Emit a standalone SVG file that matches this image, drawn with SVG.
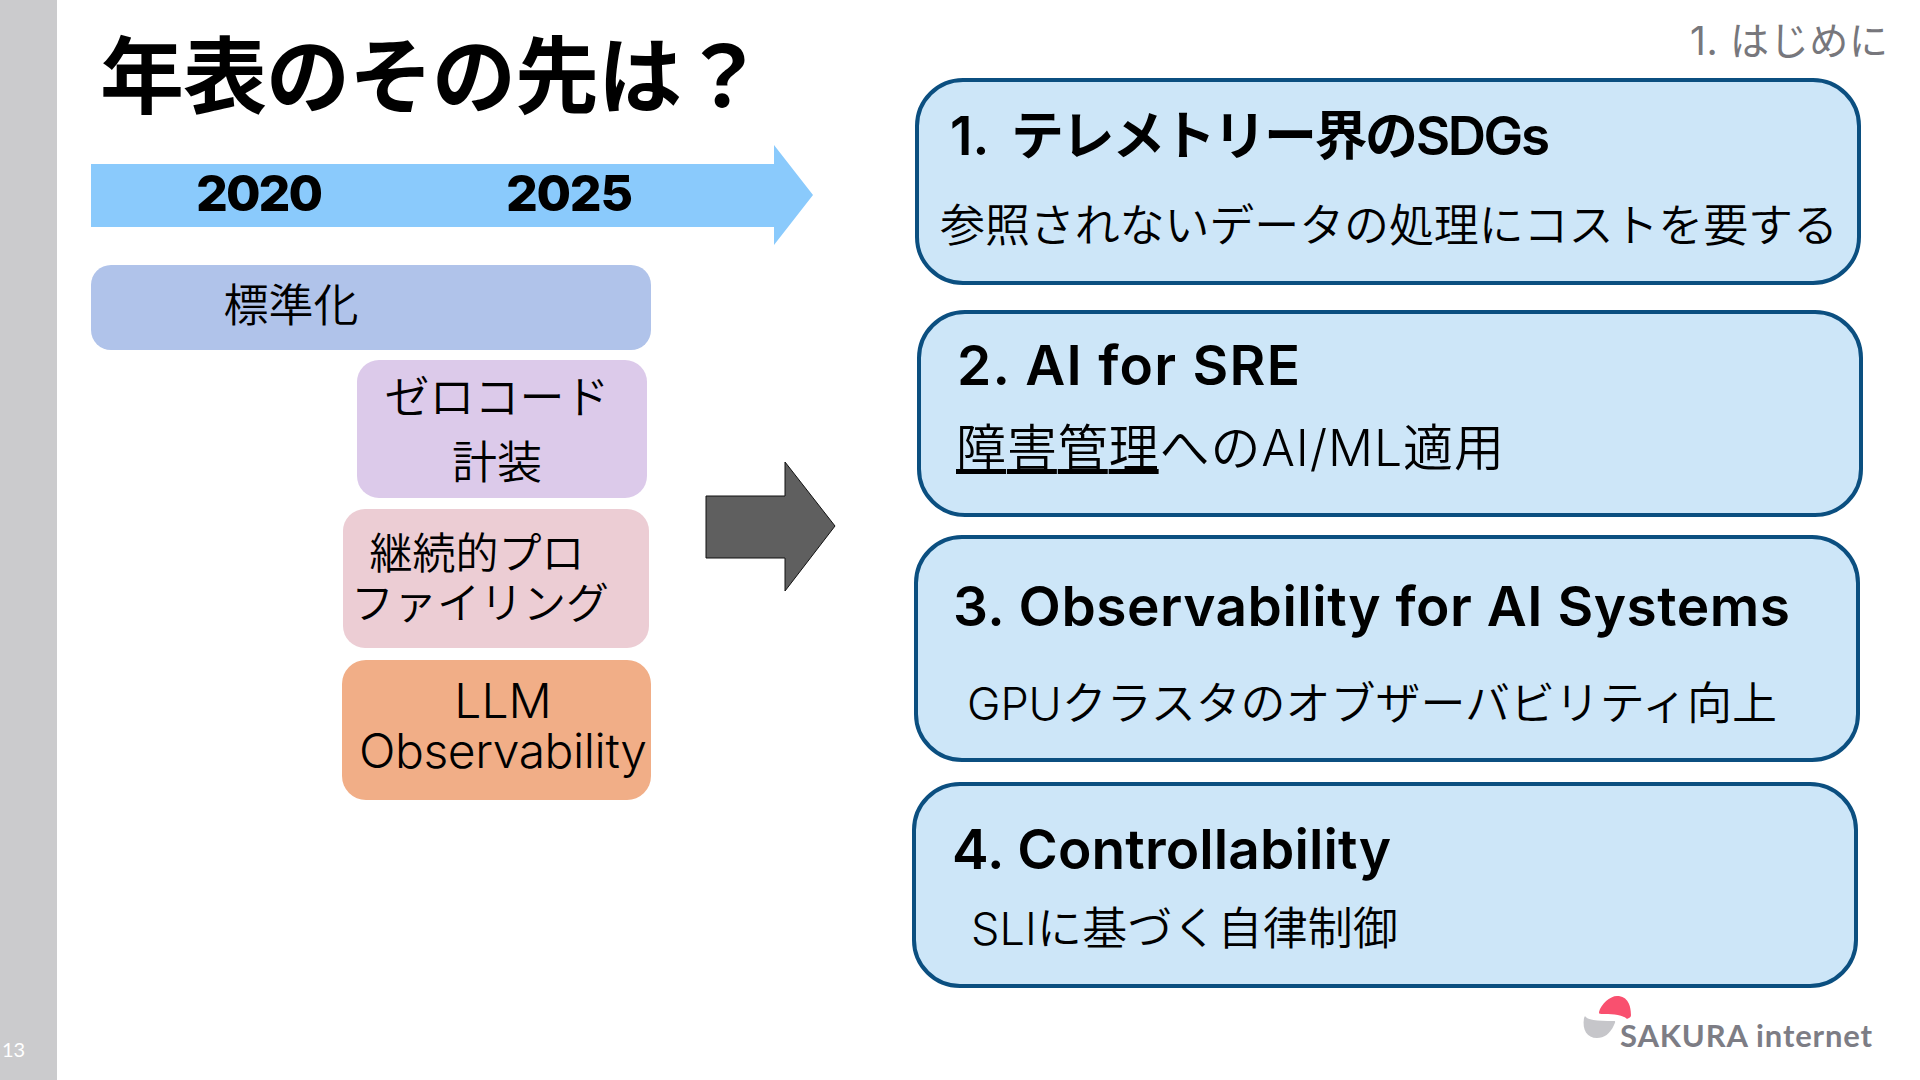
<svg xmlns="http://www.w3.org/2000/svg" width="1920" height="1080" viewBox="0 0 1920 1080">
<style>
text{font-family:Inter,"Noto Sans CJK JP","Noto Sans",sans-serif;fill:#000}
.b{font-weight:700}
.h{font-weight:600;font-size:55px}
.s{font-size:45px;font-weight:350}
.t{font-size:45px;font-weight:350}
.p{font-size:43px;font-weight:350}
.l{font-size:48px;font-weight:350}
.m{text-anchor:middle}
.card{fill:#cde6f8;stroke:#0b4f80;stroke-width:4}
</style>
<rect width="1920" height="1080" fill="#fff"/>
<rect id="sidebar" width="57" height="1080" fill="#cbcbcd"/>
<text x="2" y="1057" font-size="20" style="fill:#fff;font-family:Lato,sans-serif">13</text>
<text x="1690" y="55" font-size="39" textLength="198" style="fill:#77777c">1. はじめに</text>
<text x="100" y="107" class="b" font-size="84" textLength="665">年表のその先は？</text>
<g id="timeline"><path d="M91 164H774V145L813 195L774 245V227H91Z" fill="#8acafc"/>
<text x="196" y="211" class="b" font-size="50" textLength="127" style="font-weight:800">2020</text>
<text x="506" y="211" class="b" font-size="50" textLength="127" style="font-weight:800">2025</text></g>
<g id="node-standard"><rect x="91" y="265" width="560" height="85" rx="20" fill="#b0c3ea"/><text x="291" y="322" class="t m">標準化</text></g>
<g id="node-zerocode"><rect x="357" y="360" width="290" height="138" rx="22" fill="#dccaea"/><text x="497" y="414" class="t m">ゼロコード</text><text x="497" y="479" class="t m">計装</text></g>
<g id="node-profiling"><rect x="343" y="509" width="306" height="139" rx="22" fill="#eccdd4"/><text x="477" y="569" class="p m">継続的プロ</text><text x="480" y="619" class="p m">ファイリング</text></g>
<g id="node-llm"><rect x="342" y="660" width="309" height="140" rx="24" fill="#f1ae87"/><text x="503" y="718" class="l m">LLM</text><text x="359" y="768" class="l" textLength="288">Observability</text></g>
<g id="connectors"><path d="M706 496H785V462L835 526L785 591V558H706Z" fill="#5f5f5f" stroke="#111" stroke-width="1"/></g>
<g id="card-1"><rect class="card" x="917" y="80" width="942" height="203" rx="46"/><text x="950" y="155" class="h" font-size="53" style="font-size:53px">1.<tspan x="1011" textLength="539">テレメトリー界のSDGs</tspan></text><text x="940" y="242" class="s" textLength="898">参照されないデータの処理にコストを要する</text></g>
<g id="card-2"><rect class="card" x="919" y="312" width="942" height="203" rx="46"/><text x="957" y="385" class="h" textLength="343">2. AI for SRE</text><text x="956" y="466" class="s" style="font-size:50px" textLength="548"><tspan text-decoration="underline">障害管理</tspan>へのAI/ML適用</text></g>
<g id="card-3"><rect class="card" x="916" y="537" width="942" height="223" rx="46"/><text x="953" y="626" class="h" textLength="837">3. Observability for AI Systems</text><text x="967" y="720" class="s" textLength="810">GPUクラスタのオブザーバビリティ向上</text></g>
<g id="card-4"><rect class="card" x="914" y="784" width="942" height="202" rx="46"/><text x="952" y="869" class="h" textLength="439">4. Controllability</text><text x="971" y="945" class="s" textLength="427">SLIに基づく自律制御</text></g>
<g id="logo"><path d="M1599 1012C1601 1004 1610 996 1617 996C1628 996 1631 1006 1631 1015C1631 1018 1628 1018 1627 1019C1622 1014 1610 1014 1602 1014C1599 1014 1599 1013 1599 1012Z" fill="#f9506f"/>
<path d="M1585 1016C1587 1020 1596 1021 1614 1021C1616 1021 1615 1023 1614 1025C1610 1034 1604 1038 1597 1038C1587 1038 1582 1030 1584 1018Z" fill="#c6c6ca"/>
<text x="1620" y="1047" font-size="31" textLength="252" style="fill:#7d7d85;font-family:Lato,sans-serif;font-weight:700">SAKURA internet</text></g>
</svg>
